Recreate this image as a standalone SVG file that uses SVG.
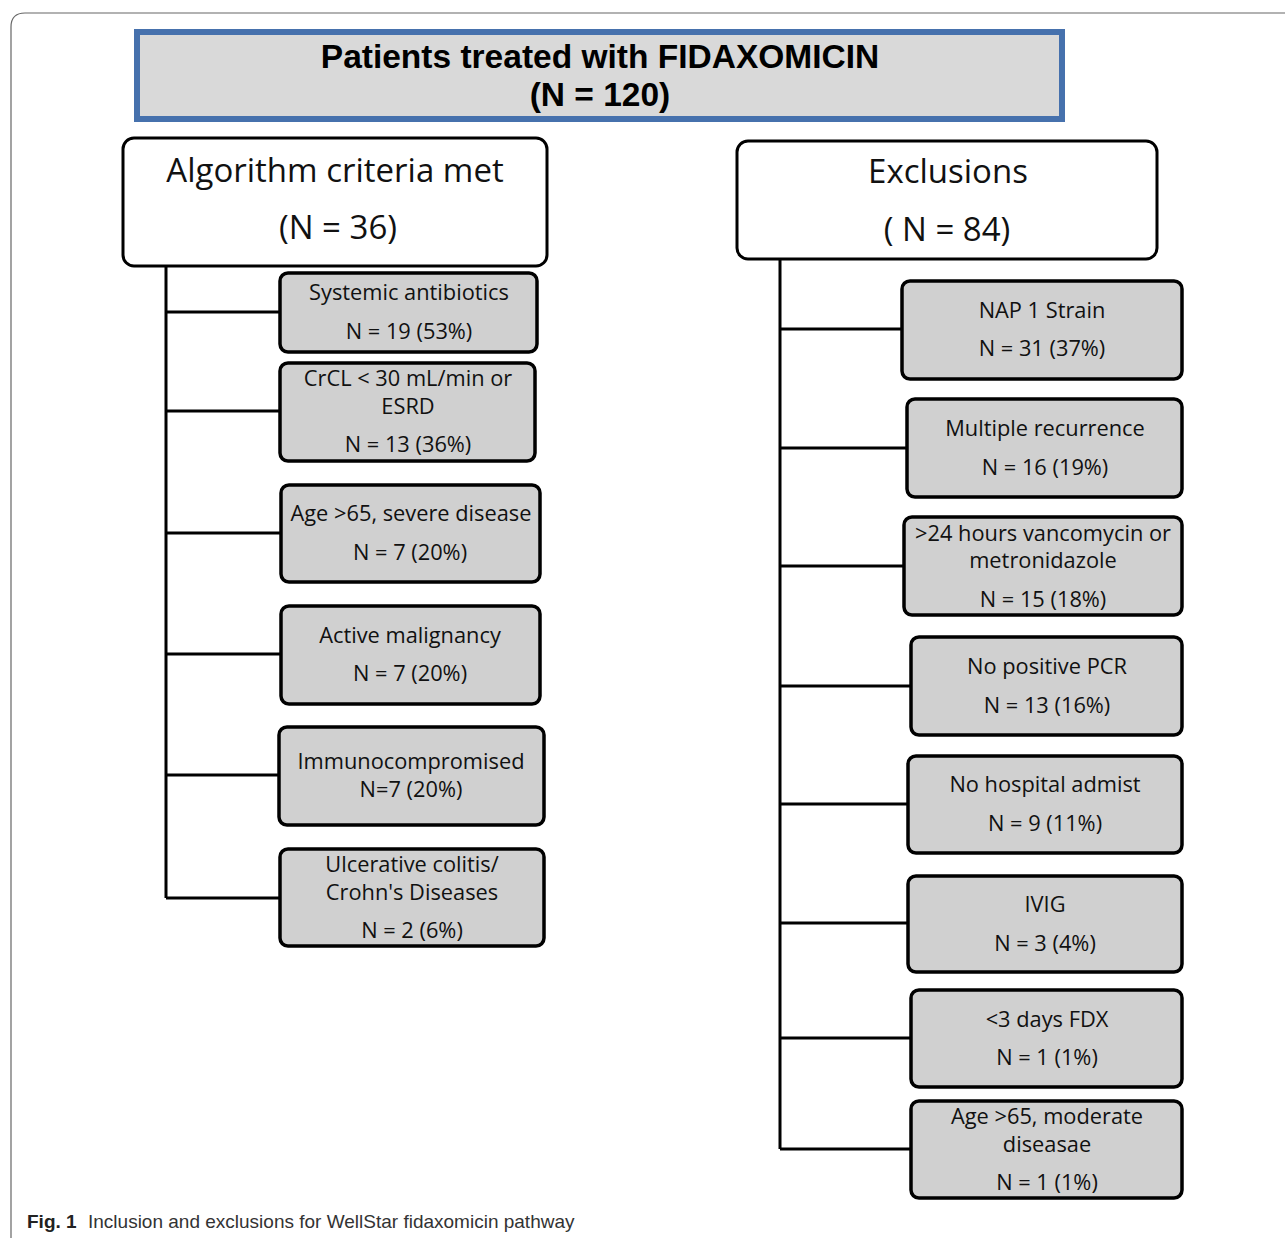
<svg xmlns="http://www.w3.org/2000/svg" width="1285" height="1238" viewBox="0 0 1285 1238">
<style>
.frame{fill:none;stroke:#666;stroke-width:1.2}
.hdr{fill:#fff;stroke:#000;stroke-width:3}
.box{fill:#d0d0d0;stroke:#000;stroke-width:3.5}
.ln{stroke:#000;stroke-width:3;fill:none}
.t{font-family:"Open Sans",Lato,sans-serif;font-size:21.8px;fill:#111;text-anchor:middle}
.h{font-family:"Open Sans",Lato,sans-serif;font-size:33px;fill:#111;text-anchor:middle}
.title{font-family:"Liberation Sans",Arial,sans-serif;font-weight:bold;font-size:33.5px;fill:#000;text-anchor:middle}
.cap{font-family:"Liberation Sans",Arial,sans-serif;font-size:19px;fill:#333}
</style>
<path class="frame" d="M11,1238 V27 Q11,13 25,13 H1285"/>
<g id="title">
<rect x="137" y="32" width="925" height="87" fill="#d9d9d9" stroke="#4671ad" stroke-width="6"/>
<text class="title" x="600" y="68">Patients treated with FIDAXOMICIN</text>
<text class="title" x="600" y="106">(N = 120)</text>
</g>
<g id="connectors">
<path class="ln" d="M166,266 V898"/>
<path class="ln" d="M166,312 H280 M166,411 H280 M166,533 H281 M166,654 H281 M166,775 H279 M166,898 H280"/>
<path class="ln" d="M780,259 V1149"/>
<path class="ln" d="M780,329 H902 M780,448 H907 M780,566 H904 M780,686 H911 M780,804 H908 M780,923 H908 M780,1038 H911 M780,1149 H911"/>
</g>
<g id="inc">
<rect class="hdr" x="123" y="138" width="424" height="128" rx="11"/>
<text class="h" x="335" y="182">Algorithm criteria met</text>
<text class="h" x="338" y="239">(N = 36)</text>
</g>
<g id="exc">
<rect class="hdr" x="737" y="141" width="420" height="118" rx="11"/>
<text class="h" x="948" y="183">Exclusions</text>
<text class="h" x="947" y="241">( N = 84)</text>
</g>
<g id="i1"><rect class="box" x="280" y="273" width="257" height="79" rx="8"/>
<text class="t" x="409" y="300">Systemic antibiotics</text><text class="t" x="409" y="339">N = 19 (53%)</text></g>
<g id="i2"><rect class="box" x="280" y="363" width="255" height="98" rx="8"/>
<text class="t" x="408" y="386">CrCL &lt; 30 mL/min or</text><text class="t" x="408" y="414">ESRD</text><text class="t" x="408" y="452">N = 13 (36%)</text></g>
<g id="i3"><rect class="box" x="281" y="485" width="259" height="97" rx="8"/>
<text class="t" x="411" y="521">Age &gt;65, severe disease</text><text class="t" x="410" y="560">N = 7 (20%)</text></g>
<g id="i4"><rect class="box" x="281" y="606" width="259" height="98" rx="8"/>
<text class="t" x="410" y="643">Active malignancy</text><text class="t" x="410" y="681">N = 7 (20%)</text></g>
<g id="i5"><rect class="box" x="279" y="727" width="265" height="98" rx="8"/>
<text class="t" x="411" y="769">Immunocompromised</text><text class="t" x="411" y="797">N=7 (20%)</text></g>
<g id="i6"><rect class="box" x="280" y="849" width="264" height="97" rx="8"/>
<text class="t" x="412" y="872">Ulcerative colitis/</text><text class="t" x="412" y="900">Crohn's Diseases</text><text class="t" x="412" y="938">N = 2 (6%)</text></g>
<g id="e1"><rect class="box" x="902" y="281" width="280" height="98" rx="8"/>
<text class="t" x="1042" y="318">NAP 1 Strain</text><text class="t" x="1042" y="356">N = 31 (37%)</text></g>
<g id="e2"><rect class="box" x="907" y="399" width="275" height="98" rx="8"/>
<text class="t" x="1045" y="436">Multiple recurrence</text><text class="t" x="1045" y="475">N = 16 (19%)</text></g>
<g id="e3"><rect class="box" x="904" y="517" width="278" height="98" rx="8"/>
<text class="t" x="1043" y="541">&gt;24 hours vancomycin or</text><text class="t" x="1043" y="568">metronidazole</text><text class="t" x="1043" y="607">N = 15 (18%)</text></g>
<g id="e4"><rect class="box" x="911" y="637" width="271" height="98" rx="8"/>
<text class="t" x="1047" y="674">No positive PCR</text><text class="t" x="1047" y="713">N = 13 (16%)</text></g>
<g id="e5"><rect class="box" x="908" y="756" width="274" height="97" rx="8"/>
<text class="t" x="1045" y="792">No hospital admist</text><text class="t" x="1045" y="831">N = 9 (11%)</text></g>
<g id="e6"><rect class="box" x="908" y="876" width="274" height="96" rx="8"/>
<text class="t" x="1045" y="912">IVIG</text><text class="t" x="1045" y="951">N = 3 (4%)</text></g>
<g id="e7"><rect class="box" x="911" y="990" width="271" height="97" rx="8"/>
<text class="t" x="1047" y="1027">&lt;3 days FDX</text><text class="t" x="1047" y="1065">N = 1 (1%)</text></g>
<g id="e8"><rect class="box" x="911" y="1101" width="271" height="97" rx="8"/>
<text class="t" x="1047" y="1124">Age &gt;65, moderate</text><text class="t" x="1047" y="1152">diseasae</text><text class="t" x="1047" y="1190">N = 1 (1%)</text></g>
<text class="cap" x="27" y="1228"><tspan font-weight="bold" fill="#222">Fig. 1</tspan><tspan x="88">Inclusion and exclusions for WellStar fidaxomicin pathway</tspan></text>
</svg>
